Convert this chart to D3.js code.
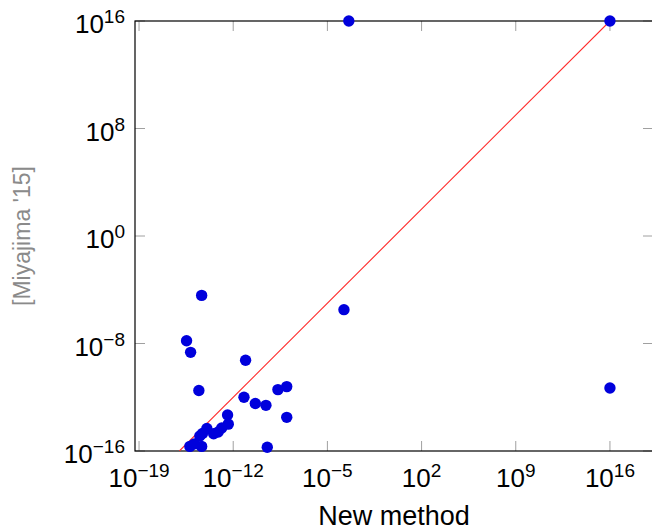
<!DOCTYPE html>
<html lang="en">
<head>
<meta charset="UTF-8">
<title>New method vs Miyajima '15</title>
<style>
  body { margin: 0; background: #fff; }
  svg { display: block; font-family: "Liberation Sans", Arial, sans-serif; }
  .axis-line { fill: none; stroke: #000; stroke-width: 1.2px; }
  .tick { stroke: #a0a0a0; stroke-width: 1px; }
</style>
</head>
<body>
<svg width="652" height="530"></svg>
<script src="https://cdn.jsdelivr.net/npm/d3@7"></script>
<script>
// data (x = new method, y = Miyajima '15)
const newMethod = [4.5e-15, 1.7e-4, 3.4e-16, 6.8e-16, 8.3e-12, 2.8e-15, 6.3e-12, 4.4e-11, 2.7e-10,
  2.1e-9, 9.5e-9, 9.5e-9, 3.8e-13, 4.3e-13, 1.4e-13, 7.6e-14, 3.5e-14, 1.1e-14, 5.2e-15, 3.3e-15,
  6.0e-16, 4.5e-15, 3.4e-10, 1.3e-15, 1e16, 3.9e-4, 1e16];
const miyajima = [3.8e-5, 3.3e-6, 1.6e-8, 2.2e-9, 5.6e-10, 3.2e-12, 1.0e-12, 3.4e-13, 2.5e-13,
  3.7e-12, 6.2e-12, 3.2e-14, 4.8e-14, 1.0e-14, 5.2e-15, 2.6e-15, 1.9e-15, 4.7e-15, 2.0e-15, 1.3e-15,
  2.2e-16, 2.2e-16, 1.9e-16, 3.4e-16, 4.9e-12, 1e16, 1e16];
const xTickExp = [-19, -12, -5, 2, 9, 16];
const yTickExp = [-16, -8, 0, 8, 16];
const diagonalX = [1e-16, 1e16];

const svg = d3.select("svg");
const m = { left: 135, right: 653, top: 21, bottom: 451 };

const x = d3.scaleLog().domain([Math.pow(10, -19.3), Math.pow(10, 19.2)]).range([m.left, m.right]);
const y = d3.scaleLog().domain([1e-16, 1e16]).range([m.bottom, m.top]);

const minus = s => String(s).replace("-", "\u2212");

// ticks (inside, mirrored on every side)
const tickLen = 10;
const g = svg.append("g");
xTickExp.forEach(e => {
  const px = x(Math.pow(10, e));
  g.append("line").attr("class", "tick").attr("x1", px).attr("x2", px).attr("y1", m.bottom).attr("y2", m.bottom - tickLen);
  g.append("line").attr("class", "tick").attr("x1", px).attr("x2", px).attr("y1", m.top).attr("y2", m.top + tickLen);
  const t = g.append("text").attr("x", px).attr("y", m.bottom + 36).attr("text-anchor", "middle")
    .attr("font-size", 26).attr("fill", "#000");
  t.append("tspan").text("10");
  t.append("tspan").attr("dy", -10).attr("font-size", 19).text(minus(e));
});
yTickExp.forEach(e => {
  const py = y(Math.pow(10, e));
  g.append("line").attr("class", "tick").attr("x1", m.left).attr("x2", m.left + tickLen).attr("y1", py).attr("y2", py);
  g.append("line").attr("class", "tick").attr("x1", m.right).attr("x2", m.right - tickLen).attr("y1", py).attr("y2", py);
  const t = g.append("text").attr("x", 125).attr("y", py + 12).attr("text-anchor", "end")
    .attr("font-size", 26).attr("fill", "#000");
  t.append("tspan").text("10");
  t.append("tspan").attr("dy", -10).attr("font-size", 19).text(minus(e));
});

// box
svg.append("rect").attr("class", "axis-line")
  .attr("x", m.left).attr("y", m.top).attr("width", m.right - m.left).attr("height", m.bottom - m.top);

// y = x reference line
svg.append("clipPath").attr("id", "plot-clip").append("rect")
  .attr("x", m.left).attr("y", m.top).attr("width", m.right - m.left).attr("height", m.bottom - m.top);
svg.append("path")
  .attr("clip-path", "url(#plot-clip)")
  .attr("d", d3.line().x(d => x(d)).y(d => y(d))(diagonalX))
  .attr("fill", "none").attr("stroke", "#ff2a2a").attr("stroke-width", 1.1);

// points
svg.append("g").selectAll("circle")
  .data(newMethod.map((v, i) => [v, miyajima[i]]))
  .join("circle")
  .attr("cx", d => x(d[0]))
  .attr("cy", d => y(d[1]))
  .attr("r", 5.7)
  .attr("fill", "#0000dc");

// axis labels
svg.append("text").attr("x", (m.left + m.right) / 2).attr("y", 525).attr("text-anchor", "middle")
  .attr("font-size", 27).attr("fill", "#000").text("New method");
svg.append("text").attr("transform", `translate(30,${(m.top + m.bottom) / 2}) rotate(-90)`)
  .attr("text-anchor", "middle").attr("font-size", 23).attr("fill", "#8a8a8a").text("[Miyajima '15]");
</script>
</body>
</html>
